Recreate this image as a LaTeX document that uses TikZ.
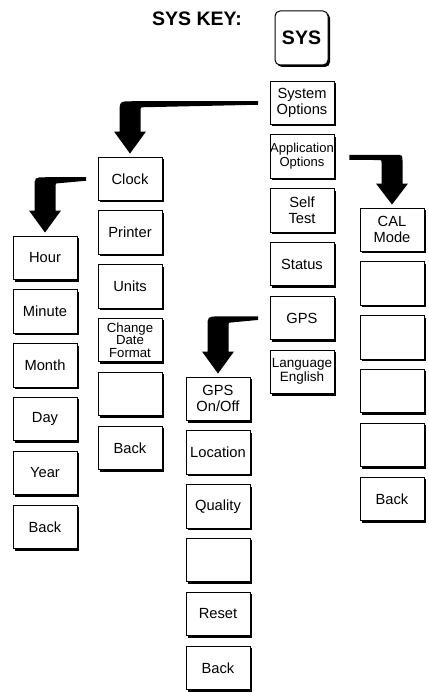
\documentclass[tikz,border=0pt]{standalone}
\usepackage{fontspec}
\setmainfont{Liberation Sans}
\usetikzlibrary{calc,shadows}
\tikzset{
  softkey/.style={draw, line width=0.9pt, fill=white, rectangle,
    minimum width=64pt, minimum height=43.5pt, inner sep=0pt, align=center,
    font=\fontsize{14.7}{16}\selectfont,
    drop shadow={shadow xshift=2pt, shadow yshift=-2pt, fill=black, opacity=1}},
  smallkey/.style={softkey, font=\fontsize{13}{14}\selectfont},
  tightkey/.style={softkey, font=\fontsize{13.2}{12.2}\selectfont},
  hardkey/.style={draw, line width=1pt, fill=white, rectangle, rounded corners=5pt,
    minimum width=53pt, minimum height=54pt, inner sep=0pt,
    font=\fontsize{19.5}{20}\selectfont\bfseries,
    drop shadow={shadow xshift=2pt, shadow yshift=-2pt, fill=black, opacity=1}},
  title/.style={font=\fontsize{19.5}{20}\selectfont\bfseries, inner sep=0pt}
}
% bent arrow turning left-down: #1 source node, #2 target node, #3 outer radius
\newcommand\bentleft[3]{%
  \fill let \p1=($(#1.west)+(-11.5pt,0pt)$), \p2=($(#2.north)+(0pt,3pt)$) in
   (\x1,\y1+1.5pt) -- (\x2-10.5pt+#3,\y1+1.5pt)
   .. controls (\x2-10.5pt,\y1+1.5pt) .. (\x2-10.5pt,\y1+1.5pt-#3)
   -- (\x2-10.5pt,\y2+22pt) -- (\x2-16pt,\y2+22pt) -- (\x2,\y2)
   -- (\x2+16pt,\y2+22pt) -- (\x2+10.5pt,\y2+22pt)
   -- (\x2+10.5pt,\y1-7.5pt) .. controls (\x2+10.5pt,\y1-4.5pt) .. (\x2+13.5pt,\y1-4.5pt)
   -- (\x1,\y1-2pt) -- cycle;}
% bent arrow turning right-down
\newcommand\bentright[3]{%
  \fill let \p1=($(#1.east)+(15pt,0pt)$), \p2=($(#2.north)+(0pt,3pt)$) in
   (\x1,\y1+1.75pt) -- (\x2+10.5pt-#3,\y1+1.75pt)
   .. controls (\x2+10.5pt,\y1+1.75pt) .. (\x2+10.5pt,\y1+1.75pt-#3)
   -- (\x2+10.5pt,\y2+21pt) -- (\x2+16pt,\y2+21pt) -- (\x2,\y2)
   -- (\x2-16pt,\y2+21pt) -- (\x2-10.5pt,\y2+21pt)
   -- (\x2-10.5pt,\y1-6pt) .. controls (\x2-10.5pt,\y1-3.5pt) .. (\x2-13pt,\y1-3.5pt)
   -- (\x1,\y1-3.25pt) -- cycle;}
\begin{document}
\begin{tikzpicture}[x=1pt,y=-1pt]
\useasboundingbox (0,0) rectangle (428,692);

\node[title, anchor=base west] (title) at (152,26) {SYS KEY:};
\node[hardkey] (sys) at (301.5,38) {SYS};

% main column
\node[softkey]  (sysopt) at (302,102.75) {System\\Options};
\node[smallkey] (appopt) at (302,156.55) {Application\\Options};
\node[softkey]  (self)   at (302,210.35) {Self\\Test};
\node[softkey]  (status) at (302,264.15) {Status};
\node[softkey]  (gps)    at (302,317.95) {GPS};
\node[smallkey, font=\fontsize{13.5}{14}\selectfont] (lang) at (302,371.75) {Language\\English};

% clock column
\node[softkey]  (clock)   at (130,178.75) {Clock};
\node[softkey]  (printer) at (130,232.55) {Printer};
\node[softkey]  (units)   at (130,286.35) {Units};
\node[tightkey] (cdf)     at (130,340.15) {Change\\Date\\Format};
\node[softkey]  (cblank)  at (130,393.95) {};
\node[softkey]  (cback)   at (130,447.75) {Back};

% hour column
\node[softkey] (hour)   at (45,257.75) {Hour};
\node[softkey] (minute) at (45,311.55) {Minute};
\node[softkey] (month)  at (45,365.35) {Month};
\node[softkey] (day)    at (45,419.15) {Day};
\node[softkey] (year)   at (45,472.95) {Year};
\node[softkey] (hback)  at (45,526.75) {Back};

% gps column
\node[softkey] (gpsonoff) at (218,398.75) {GPS\\On/Off};
\node[softkey] (location) at (218,452.55) {Location};
\node[softkey] (quality)  at (218,506.35) {Quality};
\node[softkey] (gblank)   at (218,560.15) {};
\node[softkey] (reset)    at (218,613.95) {Reset};
\node[softkey] (gback)    at (218,667.75) {Back};

% cal column
\node[softkey] (cal)     at (392,229.75) {CAL\\Mode};
\node[softkey] (calb1)   at (392,283.55) {};
\node[softkey] (calb2)   at (392,337.35) {};
\node[softkey] (calb3)   at (392,391.15) {};
\node[softkey] (calb4)   at (392,444.95) {};
\node[softkey] (calback) at (392,498.75) {Back};

% arrows
\bentleft{sysopt}{clock}{13pt}
\bentleft{clock}{hour}{11pt}
\bentleft{gps}{gpsonoff}{11pt}
\bentright{appopt}{cal}{7pt}
\end{tikzpicture}
\end{document}
